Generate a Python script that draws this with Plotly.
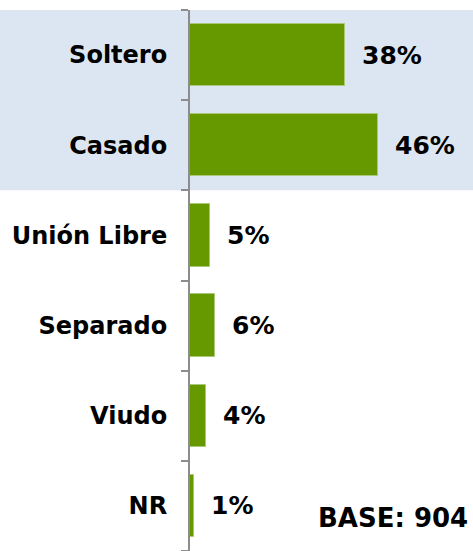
import plotly.graph_objects as go

categories = ["Soltero", "Casado", "Unión Libre", "Separado", "Viudo", "NR"]
values = [38, 46, 5, 6, 4, 1]
value_labels = ["38%", "46%", "5%", "6%", "4%", "1%"]
base_text = "BASE: 904"

# bottom-to-top order for plotting
cats = categories[::-1]
vals = values[::-1]
labs = value_labels[::-1]

FONT = "DejaVu Sans"
BAR = "#669900"

fig = go.Figure()
fig.add_trace(go.Bar(
    y=cats, x=vals, orientation="h",
    marker=dict(color=BAR, line=dict(color="#a9c878", width=1)),
    width=0.69, hoverinfo="skip",
))

for c, v, t in zip(cats, vals, labs):
    fig.add_annotation(x=v, y=c, xref="x", yref="y", text=t, showarrow=False,
                       xanchor="left", yanchor="middle", xshift=15,
                       font=dict(family=FONT, size=25, color="#000000", weight="bold"))

fig.add_annotation(x=1, y=33 / 541, xref="paper", yref="paper", text=base_text,
                   showarrow=False, xanchor="right", yanchor="middle", xshift=-3,
                   font=dict(family=FONT, size=26, color="#000000", weight="bold"))

# light blue band behind first two categories
fig.add_shape(type="rect", xref="paper", yref="y", x0=-1, x1=1.05, y0=3.5, y1=5.5,
              fillcolor="#dce6f2", line=dict(width=0), layer="below")

fig.update_layout(
    width=473, height=551,
    margin=dict(l=190, r=0, t=10, b=0),
    plot_bgcolor="rgba(0,0,0,0)", paper_bgcolor="#ffffff",
    showlegend=False, bargap=0,
    xaxis=dict(range=[0, 69.2], visible=False, fixedrange=True),
    yaxis=dict(
        type="category", categoryorder="array", categoryarray=cats,
        range=[-0.5, 5.5],
        showline=True, linecolor="#8c8c8c", linewidth=2,
        ticks="outside", ticklen=7, tickcolor="#8c8c8c", tickwidth=2,
        tickson="boundaries", showgrid=False, zeroline=False,
        tickfont=dict(family=FONT, size=24, color="#000000", weight="bold"),
        ticklabelstandoff=16, fixedrange=True,
    ),
)

fig.write_html("out.html", config={"displayModeBar": False},
               post_script="document.body.style.margin='0px';document.body.style.overflow='hidden';")
